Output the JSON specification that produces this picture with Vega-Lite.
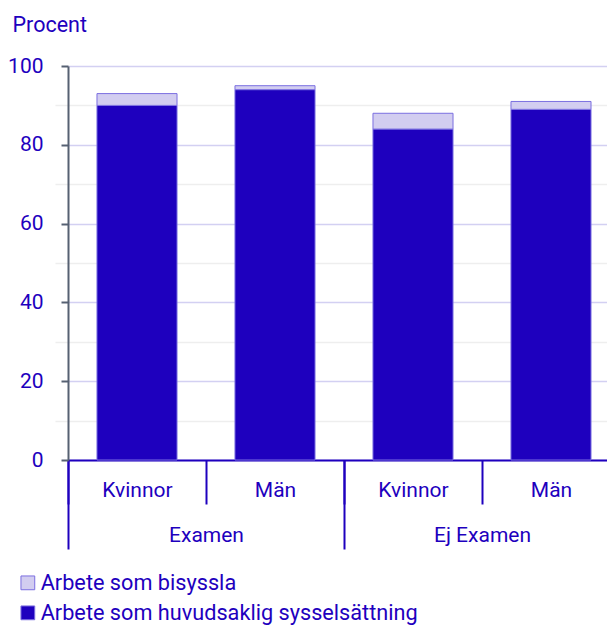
{
  "$schema": "https://vega.github.io/schema/vega-lite/v6.json",
  "width": 539,
  "height": 394,
  "autosize": {"type": "none"},
  "padding": {"left": 68, "top": 66, "right": 0, "bottom": 166},
  "config": {
    "font": "Roboto",
    "view": {"stroke": null},
    "axis": {"labelFont": "Roboto", "titleFont": "Roboto", "labelColor": "#1e00be", "titleColor": "#1e00be"},
    "legend": {"labelFont": "Roboto"}
  },
  "data": {
    "values": [
      {"grupp": "Examen", "kon": "Kvinnor", "key": "Examen|Kvinnor", "typ": "Arbete som huvudsaklig sysselsättning", "value": 90},
      {"grupp": "Examen", "kon": "Kvinnor", "key": "Examen|Kvinnor", "typ": "Arbete som bisyssla", "value": 3},
      {"grupp": "Examen", "kon": "Män", "key": "Examen|Män", "typ": "Arbete som huvudsaklig sysselsättning", "value": 94},
      {"grupp": "Examen", "kon": "Män", "key": "Examen|Män", "typ": "Arbete som bisyssla", "value": 1},
      {"grupp": "Ej Examen", "kon": "Kvinnor", "key": "Ej Examen|Kvinnor", "typ": "Arbete som huvudsaklig sysselsättning", "value": 84},
      {"grupp": "Ej Examen", "kon": "Kvinnor", "key": "Ej Examen|Kvinnor", "typ": "Arbete som bisyssla", "value": 4},
      {"grupp": "Ej Examen", "kon": "Män", "key": "Ej Examen|Män", "typ": "Arbete som huvudsaklig sysselsättning", "value": 89},
      {"grupp": "Ej Examen", "kon": "Män", "key": "Ej Examen|Män", "typ": "Arbete som bisyssla", "value": 2}
    ]
  },
  "layer": [
    {
      "mark": {"type": "bar", "width": {"band": 0.58}, "stroke": "#7b6fe0", "strokeWidth": 1},
      "encoding": {
        "x": {
          "field": "key",
          "type": "nominal",
          "sort": ["Examen|Kvinnor", "Examen|Män", "Ej Examen|Kvinnor", "Ej Examen|Män"],
          "scale": {"range": [0, 552], "paddingInner": 0, "paddingOuter": 0},
          "axis": {
            "orient": "bottom",
            "title": null,
            "labelExpr": "split(datum.value, '|')[1]",
            "labelAngle": 0,
            "labelFontSize": 21,
            "labelPadding": -14,
            "labelBaseline": "middle",
            "tickBand": "extent",
            "tickSize": 44,
            "tickWidth": 2,
            "tickColor": "#1e00be",
            "domainColor": "#1e00be",
            "domainWidth": 2,
            "grid": false
          }
        },
        "y": {
          "field": "value",
          "type": "quantitative",
          "stack": "zero",
          "scale": {"domain": [0, 100]},
          "axis": {
            "values": [0, 20, 40, 60, 80, 100],
            "title": "Procent",
            "titleAngle": 0,
            "titleAlign": "left",
            "titleBaseline": "alphabetic",
            "titleX": -56,
            "titleY": -35,
            "titleFontSize": 21.5,
            "titleFontWeight": "normal",
            "labelFontSize": 21,
            "labelPadding": 18,
            "tickSize": 7,
            "tickColor": "#566172",
            "tickWidth": 2,
            "domainColor": "#566172",
            "domainWidth": 2,
            "gridColor": "#d3d0f2",
            "gridWidth": 1.5
          }
        },
        "color": {
          "field": "typ",
          "type": "nominal",
          "scale": {
            "domain": ["Arbete som bisyssla", "Arbete som huvudsaklig sysselsättning"],
            "range": ["#d2cdf0", "#1e00be"]
          },
          "legend": {
            "title": null,
            "orient": "none",
            "legendX": -51,
            "legendY": 506,
            "direction": "vertical",
            "symbolType": "square",
            "symbolSize": 190,
            "symbolStrokeWidth": 1,
            "labelFontSize": 21.7,
            "labelLimit": 0,
            "labelColor": "#1e00be",
            "labelOffset": 2,
            "rowPadding": 7
          }
        },
        "order": {"field": "typ", "sort": "descending"}
      }
    },
    {
      "mark": {"type": "point", "opacity": 0},
      "encoding": {
        "x": {
          "field": "grupp",
          "type": "nominal",
          "sort": ["Examen", "Ej Examen"],
          "scale": {"range": [0, 552], "paddingInner": 0, "paddingOuter": 0},
          "axis": {
            "orient": "bottom",
            "title": null,
            "labelAngle": 0,
            "labelFontSize": 21,
            "labelPadding": -14,
            "labelBaseline": "middle",
            "tickBand": "extent",
            "tickSize": 89,
            "tickWidth": 2,
            "tickColor": "#1e00be",
            "domain": false,
            "grid": false
          }
        },
        "y": {
          "field": "value",
          "type": "quantitative",
          "scale": {"domain": [0, 100]},
          "axis": {
            "orient": "right",
            "values": [10, 30, 50, 70, 90],
            "title": null,
            "labels": false,
            "ticks": false,
            "domain": false,
            "grid": true,
            "gridColor": "#eeeeee",
            "gridWidth": 1.5
          }
        }
      }
    }
  ],
  "resolve": {"scale": {"x": "independent"}, "axis": {"x": "independent", "y": "independent"}}
}
